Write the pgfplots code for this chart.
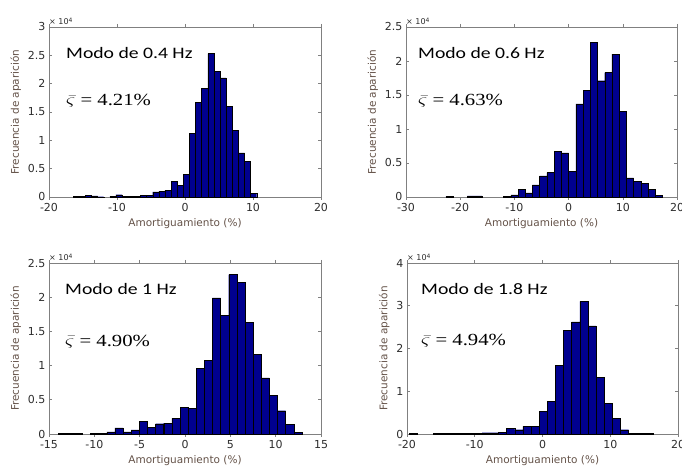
\documentclass[border=0pt]{standalone}
\usepackage{fontspec}
\setmainfont{DejaVu Sans}
\newfontfamily\calibri{Carlito}
\newfontfamily\cambria{Liberation Serif}
\usepackage{graphicx}
\usepackage{pgfplots}
\pgfplotsset{compat=1.18}
\usepackage{pgfplotstable}

\definecolor{barblue}{RGB}{0,0,143}
\definecolor{boxgray}{RGB}{128,128,128}
\definecolor{ticktext}{RGB}{45,45,45}
\definecolor{labeltext}{RGB}{100,82,72}

% histogram counts, in units of 10^4
\pgfplotstableread{
x y
-16.0 0.01
-15.1 0.01
-14.2 0.03
-13.3 0.02
-12.4 0.005
-10.6 0.01
-9.7 0.04
-8.8 0.01
-7.9 0.01
-7.0 0.015
-6.1 0.03
-5.2 0.03
-4.3 0.09
-3.4 0.10
-2.5 0.12
-1.6 0.28
-0.7 0.20
0.2 0.40
1.1 1.12
2.0 1.67
2.9 1.92
3.8 2.53
4.7 2.22
5.6 2.10
6.5 1.60
7.4 1.17
8.3 0.78
9.2 0.63
10.1 0.06
}\modoA

\pgfplotstableread{
x y
-22.0 0.01
-18.0 0.015
-16.67 0.015
-11.33 0.01
-10.0 0.03
-8.67 0.11
-7.33 0.06
-6.0 0.18
-4.67 0.31
-3.33 0.36
-2.0 0.67
-0.67 0.65
0.67 0.38
2.0 1.37
3.33 1.57
4.67 2.27
6.0 1.71
7.33 1.83
8.67 2.10
10.0 1.26
11.33 0.28
12.67 0.23
14.0 0.20
15.33 0.11
16.67 0.02
}\modoB

\pgfplotstableread{
x y
-13.55 0.01
-12.65 0.01
-11.76 0.01
-9.97 0.01
-9.07 0.01
-8.17 0.03
-7.28 0.09
-6.38 0.03
-5.49 0.06
-4.59 0.19
-3.69 0.10
-2.80 0.15
-1.90 0.16
-1.00 0.23
-0.10 0.39
0.79 0.37
1.69 0.96
2.59 1.08
3.48 1.99
4.38 1.73
5.27 2.33
6.17 2.22
7.07 1.63
7.96 1.16
8.86 0.82
9.75 0.56
10.65 0.34
11.55 0.14
12.44 0.02
}\modoC

\pgfplotstableread{
x y
-19.1 0.02
-15.5 0.01
-14.3 0.01
-13.1 0.01
-11.9 0.01
-10.7 0.01
-9.5 0.02
-8.3 0.03
-7.1 0.03
-5.9 0.04
-4.7 0.14
-3.5 0.10
-2.3 0.18
-1.1 0.18
0.1 0.53
1.3 0.76
2.5 1.60
3.7 2.43
4.9 2.62
6.1 3.10
7.3 2.53
8.5 1.33
9.7 0.71
10.9 0.36
12.1 0.10
13.3 0.01
14.5 0.01
15.7 0.01
}\modoD

\pgfplotsset{
  hist/.style={
    scale only axis, width=272pt, height=170pt,
    anchor=south west,
    ybar, ymin=0,
    axis line style={boxgray, line width=0.6pt},
    tick style={boxgray, line width=0.6pt},
    major tick length=3pt,
    tick label style={font=\fontsize{11}{12}\selectfont, text=ticktext},
    /pgf/number format/assume math mode=true,
    xlabel={Amortiguamiento (\%)},
    ylabel={Frecuencia de aparición},
    label style={font=\fontsize{10.5}{12}\selectfont, text=labeltext},
    clip=false,
  },
  bars/.style={fill=barblue, draw=black, line width=0.4pt, bar width=#1},
}

\newcommand{\escala}{%
  \node[anchor=south west, inner sep=0pt, text=ticktext,
        font=\fontsize{8}{9}\selectfont]
    at ([yshift=2pt]rel axis cs:0,1) {× 10\raisebox{0.55ex}{\fontsize{6}{7}\selectfont 4}};}
\newcommand{\modo}[4]{%
  \node[anchor=west, inner sep=0pt, xshift=#2, yshift=-26pt,
        font=\calibri\fontsize{16}{18}\selectfont]
    at (rel axis cs:0,1) {\scalebox{1.23}[1]{Modo de #1 Hz}};
  \node[anchor=base west, inner sep=0pt, xshift=#2, yshift=-#4,
        font=\cambria\fontsize{17}{19}\selectfont]
    at (rel axis cs:0,1) {\scalebox{1.22}[1]{$\bar{\varsigma}$ = #3\%}};}

\begin{document}
\begin{tikzpicture}

\begin{axis}[hist, at={(49pt,271pt)},
  xmin=-20, xmax=20, xtick={-20,-10,0,10,20},
  ymax=3, ytick={0,0.5,1,1.5,2,2.5,3}]
\addplot[bars=0.9] table[x=x, y=y] {\modoA};
\escala
\modo{0.4}{17pt}{4.21}{79pt}
\end{axis}

\begin{axis}[hist, at={(406pt,271pt)}, width=271pt,
  xmin=-30, xmax=20, xtick={-30,-20,-10,0,10,20},
  ymax=2.5, ytick={0,0.5,1,1.5,2,2.5}]
\addplot[bars=1.333] table[x=x, y=y] {\modoB};
\escala
\modo{0.6}{12pt}{4.63}{79pt}
\end{axis}

\begin{axis}[hist, at={(49pt,34pt)}, height=171pt,
  xmin=-15, xmax=15, xtick={-15,-10,-5,0,5,10,15},
  ymax=2.5, ytick={0,0.5,1,1.5,2,2.5}]
\addplot[bars=0.897] table[x=x, y=y] {\modoC};
\escala
\modo{1}{16pt}{4.90}{83pt}
\end{axis}

\begin{axis}[hist, at={(407pt,34pt)}, width=271pt, height=171pt,
  xmin=-20, xmax=20, xtick={-20,-10,0,10,20},
  ymax=4, ytick={0,1,2,3,4}]
\addplot[bars=1.2] table[x=x, y=y] {\modoD};
\escala
\modo{1.8}{14pt}{4.94}{82pt}
\end{axis}

\pgfresetboundingbox
\useasboundingbox (0,0) rectangle (682pt,468pt);
\end{tikzpicture}
\end{document}
